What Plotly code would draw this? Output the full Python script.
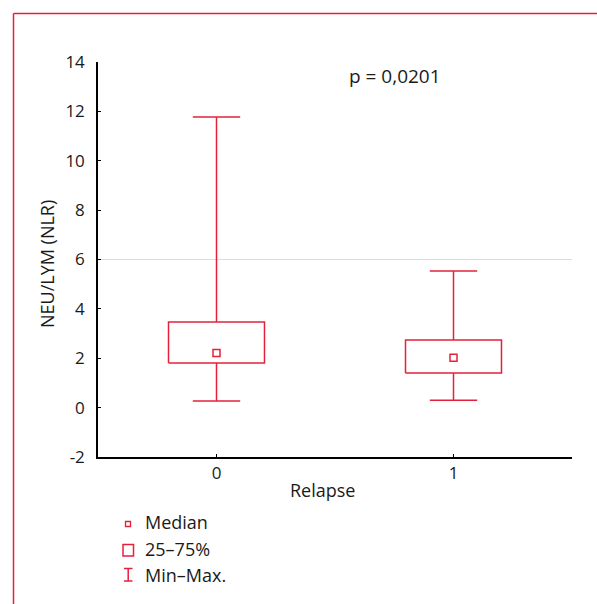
import plotly.graph_objects as go

# ---- data ----
groups = [0, 1]
group_labels = ["0", "1"]
minimum = [0.27, 0.30]
q1 = [1.81, 1.40]
median = [2.21, 2.02]
q3 = [3.47, 2.74]
maximum = [11.77, 5.53]
y_ticks = [-2, 0, 2, 4, 6, 8, 10, 12, 14]
y_tick_labels = ["-2", "0", "2", "4", "6", "8", "10", "12", "14"]
p_text = "p = 0,0201"
y_title = "NEU/LYM (NLR)"
x_title = "Relapse"
legend_labels = ["Median", "25–75%", "Min–Max."]

RED = "#e5203b"
FONT = "Open Sans, Noto Sans, sans-serif"
TXT = "#1a1a1a"

W, H = 597, 604
L, R, T, B = 98, 572, 62, 457  # plot area in pixels


def px(xp):
    return (xp - L) / (R - L)


def py(yp):
    return (B - yp) / (B - T)


half_box = 0.2025
half_cap = 0.1

fig = go.Figure()

# whiskers + caps
wx, wy = [], []
for g, lo, a, b, hi in zip(groups, minimum, q1, q3, maximum):
    wx += [g, g, None, g - half_cap, g + half_cap, None,
           g, g, None, g - half_cap, g + half_cap, None]
    wy += [b, hi, None, hi, hi, None,
           a, lo, None, lo, lo, None]
fig.add_trace(go.Scatter(x=wx, y=wy, mode="lines",
                         line=dict(color=RED, width=1.5),
                         hoverinfo="skip", showlegend=False))

# boxes
bx, by = [], []
for g, a, b in zip(groups, q1, q3):
    bx += [g - half_box, g + half_box, g + half_box, g - half_box, g - half_box, None]
    by += [a, a, b, b, a, None]
fig.add_trace(go.Scatter(x=bx, y=by, mode="lines",
                         line=dict(color=RED, width=1.5),
                         hoverinfo="skip", showlegend=False))

# medians
fig.add_trace(go.Scatter(x=groups, y=median, mode="markers",
                         marker=dict(symbol="square-open", size=7,
                                     color=RED, line=dict(width=1.5, color=RED)),
                         showlegend=False))

shapes = []
# gridline at 6
shapes.append(dict(type="line", xref="paper", yref="y", x0=0, x1=1, y0=6, y1=6,
                   line=dict(color="#dcdcdc", width=1), layer="below"))
# outer red frame (open to right/bottom)
shapes.append(dict(type="line", xref="paper", yref="paper",
                   x0=px(13.5), x1=px(13.5), y0=py(13.5), y1=py(640),
                   line=dict(color=RED, width=1.5)))
shapes.append(dict(type="line", xref="paper", yref="paper",
                   x0=px(13.5), x1=px(640), y0=py(13.5), y1=py(13.5),
                   line=dict(color=RED, width=1.5)))
# legend glyphs
shapes.append(dict(type="rect", xref="paper", yref="paper",
                   x0=px(125.5), x1=px(130.5), y0=py(521.5), y1=py(526.5),
                   line=dict(color=RED, width=1.3)))
shapes.append(dict(type="rect", xref="paper", yref="paper",
                   x0=px(123), x1=px(133.5), y0=py(544.5), y1=py(556),
                   line=dict(color=RED, width=1.5)))
for a, b, c, d in [(124, 132.5, 568.5, 568.5), (124, 132.5, 581, 581), (128.2, 128.2, 568.5, 581)]:
    shapes.append(dict(type="line", xref="paper", yref="paper",
                       x0=px(a), x1=px(b), y0=py(c), y1=py(d),
                       line=dict(color=RED, width=1.5)))

annotations = [
    dict(text=p_text, xref="paper", yref="paper", x=px(395), y=py(76),
         xanchor="center", yanchor="middle",
         showarrow=False, font=dict(size=19, color=TXT, family=FONT)),
    dict(text=y_title, xref="paper", yref="paper", x=px(47), y=py(264),
         xanchor="center", yanchor="middle",
         textangle=-90, showarrow=False, font=dict(size=18, color=TXT, family=FONT)),
    dict(text=x_title, xref="paper", yref="paper", x=px(322), y=py(490),
         xanchor="center", yanchor="middle",
         showarrow=False, font=dict(size=18, color=TXT, family=FONT)),
]
for lab, yc in zip(legend_labels, [522, 548.5, 574.5]):
    annotations.append(dict(text=lab, xref="paper", yref="paper", x=px(143), y=py(yc),
                            xanchor="left", yanchor="middle", showarrow=False,
                            font=dict(size=18, color=TXT, family=FONT)))

fig.update_layout(
    width=W, height=H,
    margin=dict(l=L, r=W - R, t=T, b=H - B),
    paper_bgcolor="white", plot_bgcolor="white",
    font=dict(family=FONT, size=17, color=TXT),
    shapes=shapes, annotations=annotations,
    showlegend=False,
    xaxis=dict(range=[-0.5, 1.5], tickvals=groups, ticktext=group_labels,
               showgrid=False, zeroline=False, showline=True, linecolor="black",
               linewidth=1.5, ticks="inside", ticklen=3, tickcolor="black",
               tickfont=dict(size=17, color=TXT), fixedrange=True),
    yaxis=dict(range=[-2, 14], tickvals=y_ticks, ticktext=y_tick_labels,
               showgrid=False, zeroline=False,
               showline=True, linecolor="black", linewidth=1.5, ticks="inside",
               ticklen=3, tickcolor="black", tickfont=dict(size=17, color=TXT),
               ticklabelstandoff=8, fixedrange=True),
)

fig.write_html("out.html", config={"displayModeBar": False},
               post_script="document.body.style.margin='0px';document.body.style.padding='0px';")
